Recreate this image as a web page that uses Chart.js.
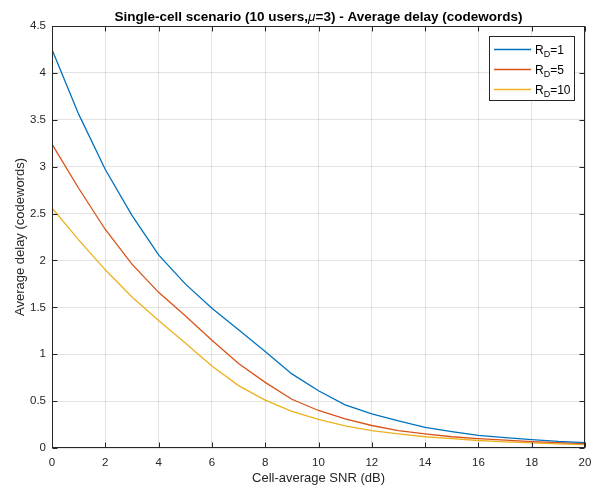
<!DOCTYPE html>
<html>
<head>
<meta charset="utf-8">
<script src="https://cdn.jsdelivr.net/npm/chart.js@4"></script>
<style>
  html, body { margin: 0; padding: 0; background: #fff; }
  canvas { display: block; }
</style>
</head>
<body>
<canvas id="delayChart" width="592" height="485"></canvas>
<script>
// SNR points (dB) and average delay per R_D value
const snrDb = [0, 1, 2, 3, 4, 5, 6, 7, 8, 9, 10, 11, 12, 13, 14, 15, 16, 17, 18, 19, 20];
const delayRd1 = [4.25, 3.56, 2.97, 2.48, 2.06, 1.75, 1.49, 1.26, 1.03, 0.79, 0.61, 0.46, 0.365, 0.29, 0.22, 0.175, 0.135, 0.11, 0.09, 0.07, 0.057];
const delayRd5 = [3.24, 2.77, 2.33, 1.96, 1.66, 1.41, 1.15, 0.90, 0.70, 0.52, 0.40, 0.31, 0.24, 0.185, 0.15, 0.12, 0.10, 0.085, 0.068, 0.057, 0.046];
const delayRd10 = [2.56, 2.22, 1.90, 1.61, 1.36, 1.12, 0.875, 0.665, 0.51, 0.39, 0.305, 0.235, 0.185, 0.15, 0.12, 0.10, 0.08, 0.065, 0.055, 0.045, 0.036];
const rdValues = ['1', '5', '10'];
const lineColors = ['#0072BD', '#D95319', '#EDB120'];

const FONT = '"Liberation Sans", Arial, Helvetica, sans-serif';
const INK = '#262626';

const toPoints = ys => ys.map((y, i) => ({ x: snrDb[i], y: y }));

// no extra label padding, so the plot box lands where the reference has it
const fixPadding = s => {
    s.paddingLeft = 0; s.paddingRight = 0;
    s.paddingTop = 0; s.paddingBottom = 0;
};

// White background, MATLAB style box, inner ticks, titles and legend
const matlabLook = {
    id: 'matlabLook',
    beforeDraw(chart) {
        const c = chart.ctx;
        c.save();
        c.fillStyle = '#fff';
        c.fillRect(0, 0, chart.width, chart.height);
        c.restore();
    },
    afterDraw(chart) {
        const c = chart.ctx;
        const a = chart.chartArea;
        const xs = chart.scales.x;
        const ys = chart.scales.y;
        const L = Math.round(a.left) + 0.5, R = Math.round(a.right) - 0.5;
        const T = Math.round(a.top) + 0.5, B = Math.round(a.bottom) - 0.5;
        c.save();

        // box
        c.strokeStyle = INK;
        c.lineWidth = 1;
        c.strokeRect(L, T, R - L, B - T);

        // inner ticks on all four sides
        c.beginPath();
        xs.ticks.forEach(t => {
            const px = Math.round(xs.getPixelForValue(t.value)) + 0.5;
            c.moveTo(px, B); c.lineTo(px, B - 5);
            c.moveTo(px, T); c.lineTo(px, T + 5);
        });
        ys.ticks.forEach(t => {
            const py = Math.round(ys.getPixelForValue(t.value)) + 0.5;
            c.moveTo(L, py); c.lineTo(L + 5, py);
            c.moveTo(R, py); c.lineTo(R - 5, py);
        });
        c.stroke();

        // title with italic mu
        const parts = [
            ['bold 13.5px ' + FONT, 'Single-cell scenario (10 users,'],
            ['italic 13.5px ' + FONT, '\u03bc'],
            ['bold 13.5px ' + FONT, '=3) - Average delay (codewords)']
        ];
        let total = 0;
        parts.forEach(p => { c.font = p[0]; total += c.measureText(p[1]).width; });
        let tx = (a.left + a.right) / 2 - total / 2;
        c.fillStyle = '#000';
        c.textBaseline = 'alphabetic';
        c.textAlign = 'left';
        parts.forEach(p => {
            c.font = p[0];
            c.fillText(p[1], tx, 21);
            tx += c.measureText(p[1]).width;
        });

        // axis titles
        c.fillStyle = INK;
        c.font = '13px ' + FONT;
        c.textAlign = 'center';
        c.fillText('Cell-average SNR (dB)', (a.left + a.right) / 2, 482);
        c.save();
        c.translate(24, (a.top + a.bottom) / 2);
        c.rotate(-Math.PI / 2);
        c.fillText('Average delay (codewords)', 0, 0);
        c.restore();

        // legend
        c.fillStyle = '#fff';
        c.fillRect(489.5, 36.5, 85, 64);
        c.strokeStyle = INK;
        c.strokeRect(489.5, 36.5, 85, 64);
        rdValues.forEach((rd, i) => {
            const ly = 49.5 + i * 20;
            c.strokeStyle = lineColors[i];
            c.lineWidth = 1.5;
            c.beginPath();
            c.moveTo(494, ly); c.lineTo(531, ly);
            c.stroke();
            c.fillStyle = '#000';
            c.textAlign = 'left';
            c.font = '12px ' + FONT;
            let lx = 535;
            c.fillText('R', lx, ly + 4);
            lx += c.measureText('R').width;
            c.font = '9px ' + FONT;
            c.fillText('D', lx, ly + 7);
            lx += c.measureText('D').width;
            c.font = '12px ' + FONT;
            c.fillText('=' + rd, lx, ly + 4);
        });
        c.restore();
    }
};

const ctx = document.getElementById('delayChart').getContext('2d');
new Chart(ctx, {
    type: 'line',
    data: {
        datasets: [delayRd1, delayRd5, delayRd10].map((ys, i) => ({
            label: 'R_D=' + rdValues[i],
            data: toPoints(ys),
            borderColor: lineColors[i],
            backgroundColor: lineColors[i],
            borderWidth: 1.3,
            pointRadius: 0,
            tension: 0,
            fill: false
        }))
    },
    options: {
        responsive: false,
        animation: false,
        layout: { padding: { top: 26, right: 7, left: 0, bottom: 0 } },
        plugins: {
            legend: { display: false },
            tooltip: { enabled: false }
        },
        scales: {
            x: {
                type: 'linear',
                min: 0,
                max: 20,
                afterFit: s => { s.height = 37; fixPadding(s); },
                ticks: {
                    stepSize: 2,
                    padding: 8,
                    color: INK,
                    font: { family: FONT, size: 11.5 },
                    maxRotation: 0,
                    callback: v => String(v)
                },
                grid: { color: 'rgba(38,38,38,0.13)', drawTicks: false },
                border: { display: false }
            },
            y: {
                type: 'linear',
                min: 0,
                max: 4.5,
                afterFit: s => { s.width = 52; fixPadding(s); },
                ticks: {
                    stepSize: 0.5,
                    padding: 6,
                    color: INK,
                    font: { family: FONT, size: 11.5 },
                    callback: v => String(v)
                },
                grid: { color: 'rgba(38,38,38,0.13)', drawTicks: false },
                border: { display: false }
            }
        }
    },
    plugins: [matlabLook]
});
</script>
</body>
</html>
